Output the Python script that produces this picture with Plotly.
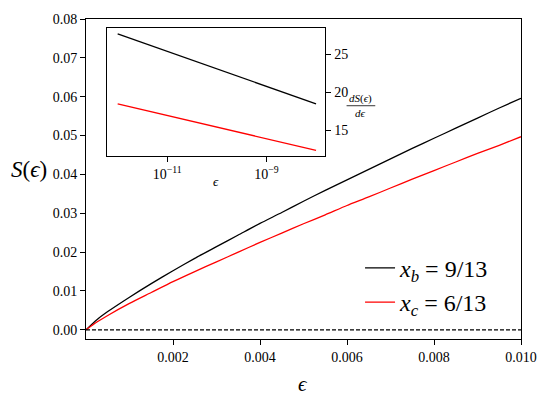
import plotly.graph_objects as go

# ---- main panel data ----
eps = [0.0, 0.00025, 0.0005, 0.001, 0.0015, 0.002, 0.0025, 0.003, 0.0035, 0.004, 0.0045, 0.005,
       0.0055, 0.006, 0.0065, 0.007, 0.0075, 0.008, 0.0085, 0.009, 0.0095, 0.01]
S_b = [0.0, 0.0026, 0.0047, 0.0084, 0.0119, 0.0152, 0.0184, 0.0214, 0.0244, 0.0274, 0.0302, 0.0331,
       0.0359, 0.0386, 0.0413, 0.0440, 0.0467, 0.0493, 0.0519, 0.0545, 0.0571, 0.0596]
S_c = [0.0, 0.0020, 0.0037, 0.0068, 0.0096, 0.0124, 0.0150, 0.0175, 0.0200, 0.0225, 0.0249, 0.0273,
       0.0296, 0.0320, 0.0342, 0.0365, 0.0388, 0.0410, 0.0432, 0.0454, 0.0475, 0.0497]
zero_x = [0.0, 0.01]
zero_y = [0.0, 0.0]

# ---- inset data ----
eps_in = [1e-12, 1e-11, 1e-10, 1e-9, 1e-8]
dS_b = [27.69, 25.39, 23.08, 20.78, 18.48]
dS_c = [18.48, 16.95, 15.42, 13.89, 12.36]

# ---- ticks ----
x_ticks = [0.002, 0.004, 0.006, 0.008, 0.010]
x_ticklabels = ["0.002", "0.004", "0.006", "0.008", "0.010"]
y_ticks = [0.0, 0.01, 0.02, 0.03, 0.04, 0.05, 0.06, 0.07, 0.08]
y_ticklabels = ["0.00", "0.01", "0.02", "0.03", "0.04", "0.05", "0.06", "0.07", "0.08"]
xin_ticks = [1e-11, 1e-9]
xin_ticklabels = ["10<sup>−11</sup>", "10<sup>−9</sup>"]
yin_ticks = [15, 20, 25]
yin_ticklabels = ["15", "20", "25"]

FONT = "Liberation Serif"
LW = 1.3

fig = go.Figure()
fig.add_trace(go.Scatter(x=eps, y=S_b, mode="lines", line=dict(color="black", width=LW, shape="spline", smoothing=0.6),
                         name="<i>x</i><sub><i>b</i></sub> = 9/13"))
fig.add_trace(go.Scatter(x=eps, y=S_c, mode="lines", line=dict(color="red", width=LW, shape="spline", smoothing=0.6),
                         name="<i>x</i><sub><i>c</i></sub> = 6/13"))
fig.add_trace(go.Scatter(x=zero_x, y=zero_y, mode="lines", showlegend=False,
                         line=dict(color="black", width=1.1, dash="4px,2px")))
fig.add_trace(go.Scatter(x=eps_in, y=dS_b, mode="lines", showlegend=False, xaxis="x2", yaxis="y2",
                         line=dict(color="black", width=LW)))
fig.add_trace(go.Scatter(x=eps_in, y=dS_c, mode="lines", showlegend=False, xaxis="x2", yaxis="y2",
                         line=dict(color="red", width=LW)))

axcommon = dict(showline=True, linecolor="black", linewidth=1, mirror=True, ticks="outside",
                ticklen=5, tickwidth=1, tickcolor="black", showgrid=False, zeroline=False,
                tickfont=dict(family=FONT, size=14, color="black"))
insetfont = dict(family=FONT, size=14, color="black")

fig.update_layout(
    width=549, height=405,
    margin=dict(l=86, r=27, t=15, b=66),
    paper_bgcolor="white", plot_bgcolor="white",
    font=dict(family=FONT, color="black"),
    xaxis=dict(domain=[0, 1], range=[0, 0.01], tickmode="array", tickvals=x_ticks,
               ticktext=x_ticklabels, **axcommon),
    yaxis=dict(domain=[0, 1], range=[-0.00236, 0.08], tickmode="array", tickvals=y_ticks,
               ticktext=y_ticklabels, **axcommon),
    xaxis2=dict(domain=[0.0489, 0.5505], anchor="y2", type="log", range=[-12.21, -7.81],
                tickmode="array", tickvals=xin_ticks, ticktext=xin_ticklabels,
                **{**axcommon, "tickfont": insetfont}),
    yaxis2=dict(domain=[0.571, 0.972], anchor="x2", side="right", range=[11.58, 28.47],
                tickmode="array", tickvals=yin_ticks, ticktext=yin_ticklabels,
                **{**axcommon, "tickfont": insetfont}),
    legend=dict(x=0.63, xanchor="left", y=0.168, yanchor="middle",
                bgcolor="rgba(0,0,0,0)", borderwidth=0,
                font=dict(family=FONT, size=24, color="black")),
    showlegend=True,
)

annots = [
    dict(text="<i>S</i>(<i>ϵ</i>)", x=-0.1307, y=0.531, size=23),
    dict(text="<i>ϵ</i>", x=0.498, y=-0.142, size=21),
    dict(text="<i>ϵ</i>", x=0.2997, y=0.491, size=13),
    dict(text="<i>dS</i>(<i>ϵ</i>)", x=0.631, y=0.753, size=11),
    dict(text="<i>dϵ</i>", x=0.631, y=0.707, size=11),
]
for a in annots:
    fig.add_annotation(xref="paper", yref="paper", showarrow=False, xanchor="center",
                       yanchor="middle", text=a["text"], x=a["x"], y=a["y"],
                       font=dict(family=FONT, color="black", size=a["size"]))

fig.add_shape(type="line", xref="paper", yref="paper", x0=0.599, x1=0.665, y0=0.729, y1=0.729,
              line=dict(color="black", width=0.8))

fig.write_html("out.html", config={"displayModeBar": False},
               post_script="document.body.style.margin='0px';")
